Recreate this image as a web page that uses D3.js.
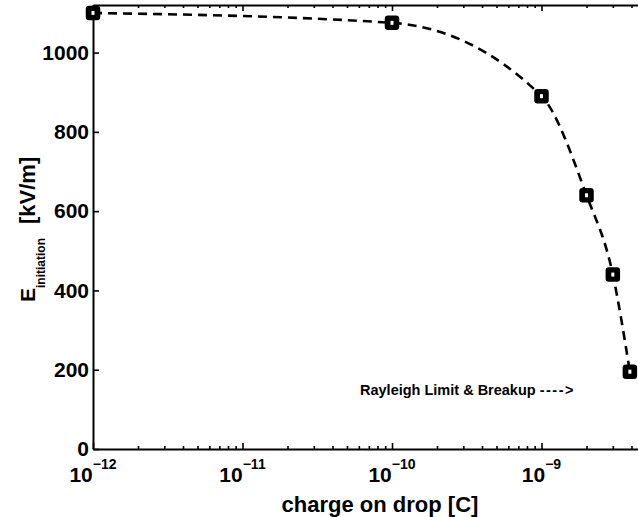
<!DOCTYPE html>
<html>
<head>
<meta charset="utf-8">
<script src="https://cdn.jsdelivr.net/npm/d3@7/dist/d3.min.js"></script>
<style>
  html, body { margin: 0; padding: 0; background: #fff; }
  svg { display: block; }
  text { font-family: "Liberation Sans", Arial, Helvetica, sans-serif; font-weight: bold; fill: #000; }
</style>
</head>
<body>
<script>
// ---- data ----
const charge = [1e-12, 1e-10, 1e-9, 2e-9, 3e-9, 3.9e-9];      // C
const eInit  = [1100, 1075, 890, 640, 440, 195];               // kV/m
const xTickExponents = [-12, -11, -10, -9];
const yTickValues = [0, 200, 400, 600, 800, 1000];
const xDomain = [1e-12, 5e-9];
const yDomain = [0, 1120];
const xTitle = "charge on drop [C]";
const yTitleMain = "E";
const yTitleSub = "initiation";
const yTitleUnit = "[kV/m]";
const annotationText = "Rayleigh Limit & Breakup ";
const annotationArrow = "---->";

(function () {
const W = 638, H = 517;
const pL = 93, pB = 449, pT = 5, pR = 646;

const svg = d3.select("body").append("svg").attr("width", W).attr("height", H);
svg.append("rect").attr("width", W).attr("height", H).attr("fill", "#fff");

const x = d3.scaleLog().domain(xDomain).range([pL, pR]);
const y = d3.scaleLinear().domain(yDomain).range([pB, pT]);

const majors = xTickExponents.map(e => Math.pow(10, e));
const minors = [];
xTickExponents.forEach(e => { for (let m = 2; m <= 9; m++) { const v = m * Math.pow(10, e); if (v <= xDomain[1]) minors.push(v); } });

function styleAxis(g) {
  g.selectAll("path.domain").attr("stroke", "#000").attr("stroke-width", 2);
  g.selectAll(".tick line").attr("stroke", "#000").attr("stroke-width", 1.6);
}

// bottom axis
const gB = svg.append("g").attr("transform", `translate(0,${pB})`)
  .call(d3.axisBottom(x).tickValues(majors).tickSize(-6).tickSizeOuter(0).tickFormat(""));
gB.call(styleAxis);
const gBm = svg.append("g").attr("transform", `translate(0,${pB})`)
  .call(d3.axisBottom(x).tickValues(minors).tickSize(-3).tickSizeOuter(0).tickFormat(""));
gBm.select("path.domain").remove();
gBm.call(styleAxis);

// top axis
const gT = svg.append("g").attr("transform", `translate(0,${pT})`)
  .call(d3.axisTop(x).tickValues(majors).tickSize(-6).tickSizeOuter(0).tickFormat(""));
gT.call(styleAxis);
const gTm = svg.append("g").attr("transform", `translate(0,${pT})`)
  .call(d3.axisTop(x).tickValues(minors).tickSize(-3).tickSizeOuter(0).tickFormat(""));
gTm.select("path.domain").remove();
gTm.call(styleAxis);

// left axis
const gL = svg.append("g").attr("transform", `translate(${pL},0)`)
  .call(d3.axisLeft(y).tickValues(yTickValues).tickFormat(d3.format("d"))
    .tickSize(-6).tickSizeOuter(0).tickPadding(4));
gL.call(styleAxis);
gL.selectAll(".tick text")
  .attr("font-size", 21).attr("font-weight", "bold")
  .attr("font-family", "Liberation Sans, Arial, Helvetica, sans-serif")
  .attr("fill", "#000");

// x tick labels 10^n
const xl = svg.selectAll("text.xlab").data(xTickExponents).join("text")
  .attr("class", "xlab")
  .attr("x", d => x(Math.pow(10, d)))
  .attr("y", 482)
  .attr("text-anchor", "middle")
  .attr("font-size", 21);
xl.append("tspan").text("10");
xl.append("tspan").attr("dy", -13).attr("font-size", 14).text(d => "\u2212" + Math.abs(d));

// x title
svg.append("text").attr("x", 380).attr("y", 512).attr("text-anchor", "middle")
  .attr("font-size", 22).text(xTitle);

// y title
const yt = svg.append("text").attr("transform", "translate(35,302) rotate(-90)")
  .attr("text-anchor", "start").attr("font-size", 21);
yt.append("tspan").text(yTitleMain);
yt.append("tspan").attr("dy", 10).attr("font-size", 12).text(yTitleSub);
yt.append("tspan").attr("dy", -10).attr("dx", 14).attr("font-size", 22).text(yTitleUnit);

// annotation
const an = svg.append("text").attr("x", 360).attr("y", 395).attr("font-size", 14.5);
an.append("tspan").text(annotationText);
an.append("tspan").attr("letter-spacing", 1.5).text(annotationArrow);

// dashed curve through data
const pts = charge.map((c, i) => [c, eInit[i]]);
const line = d3.line().x(d => x(d[0])).y(d => y(d[1])).curve(d3.curveMonotoneX);
svg.append("path").datum(pts).attr("d", line)
  .attr("fill", "none").attr("stroke", "#000").attr("stroke-width", 2.6)
  .attr("stroke-dasharray", "9,6");

// markers
const mk = svg.selectAll("g.mk").data(pts).join("g").attr("class", "mk")
  .attr("transform", d => `translate(${x(d[0])},${y(d[1])})`);
mk.append("rect").attr("x", -5.5).attr("y", -5.5).attr("width", 11).attr("height", 11)
  .attr("rx", 1.5).attr("fill", "#000").attr("stroke", "#000").attr("stroke-width", 3.5);
mk.append("rect").attr("x", -1.5).attr("y", -2).attr("width", 3).attr("height", 4).attr("fill", "#fff");
})();
</script>
</body>
</html>
